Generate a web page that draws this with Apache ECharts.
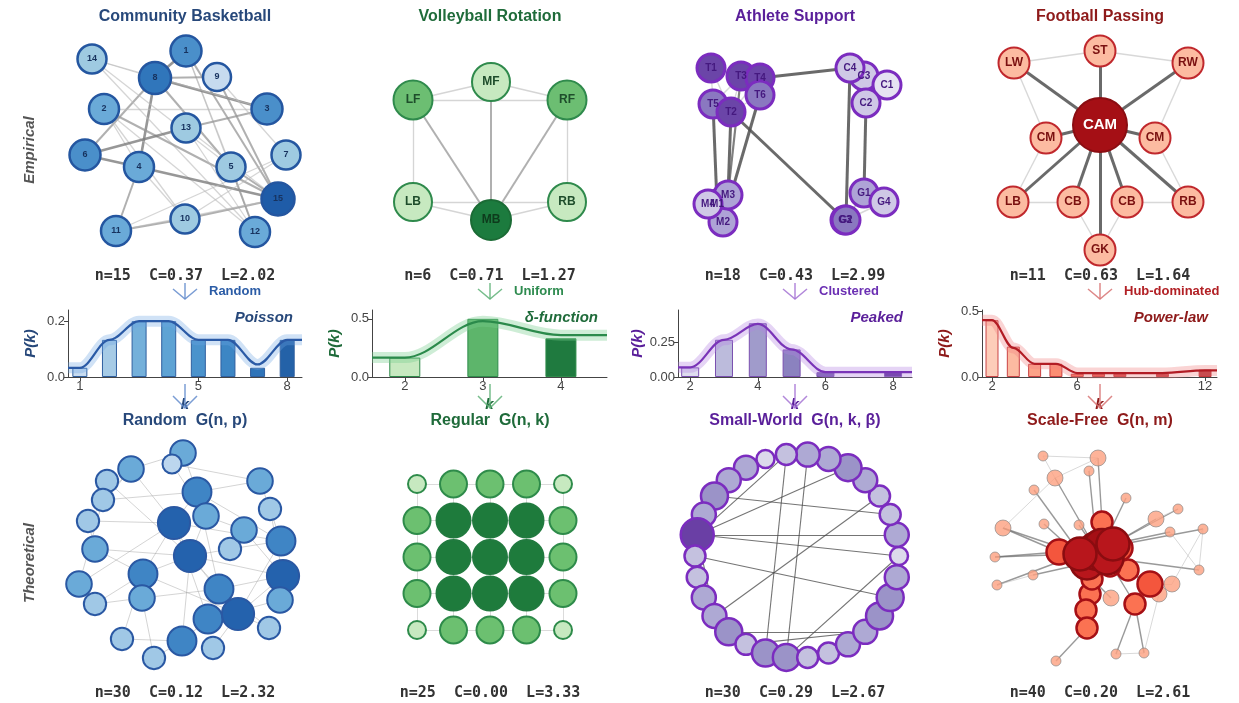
<!DOCTYPE html>
<html>
<head>
<meta charset="utf-8">
<script src="https://cdn.jsdelivr.net/npm/echarts@6/dist/echarts.min.js"></script>
<style>
  html, body { margin: 0; padding: 0; background: #ffffff; }
  #chart { width: 1239px; height: 703px; }
</style>
</head>
<body>
<div id="chart"></div>
<script>
// ---------------- Text content ----------------
const teamTitles = ['Community Basketball', 'Volleyball Rotation', 'Athlete Support', 'Football Passing'];
const modelTitles = ['Random  G(n, p)', 'Regular  G(n, k)', 'Small-World  G(n, k, \u03b2)', 'Scale-Free  G(n, m)'];
const empiricalStats = ['n=15  C=0.37  L=2.02', 'n=6  C=0.71  L=1.27', 'n=18  C=0.43  L=2.99', 'n=11  C=0.63  L=1.64'];
const modelStats = ['n=30  C=0.12  L=2.32', 'n=25  C=0.00  L=3.33', 'n=30  C=0.29  L=2.67', 'n=40  C=0.20  L=2.61'];
const shapeNotes = ['Random', 'Uniform', 'Clustered', 'Hub-dominated'];
const distNames = ['Poisson', '\u03b4-function', 'Peaked', 'Power-law'];

// ---------------- Degree distributions ----------------
const degK1 = [1, 2, 3, 4, 5, 6, 7, 8];
const degP1 = [0.033, 0.133, 0.2, 0.2, 0.133, 0.133, 0.033, 0.133];
const degK2 = [2, 3, 4];
const degP2 = [0.167, 0.5, 0.333];
const degK3 = [2, 3, 4, 5, 6, 8];
const degP3 = [0.07, 0.27, 0.39, 0.2, 0.035, 0.035];
const degK4 = [2, 3, 4, 5, 6, 7, 8, 10, 12];
const degP4 = [0.43, 0.23, 0.1, 0.1, 0.025, 0.025, 0.025, 0.025, 0.055];
// smoothed trend through each distribution
const fitP1 = [0.033, 0.133, 0.2, 0.2, 0.133, 0.133, 0.045, 0.133];
const fitP2 = [0.167, 0.48, 0.36];
const fitP3 = [0.07, 0.27, 0.385, 0.2, 0.035, 0.035];
const fitP4 = [0.43, 0.22, 0.1, 0.1, 0.03, 0.03, 0.03, 0.03, 0.05];
// axis ticks
const kTicks = [[1, 5, 8], [2, 3, 4], [2, 4, 6, 8], [2, 6, 12]];
const pTicks = [[0, 0.2], [0, 0.5], [0, 0.25], [0, 0.5]];

// ---------------- Empirical networks (layout coordinates + node degree rank) ----------------
const bballNames = ['1','2','3','4','5','6','7','8','9','10','11','12','13','14','15'];
const bballX = [1, -81, 82, -46, 46, -100, 101, -30, 32, 0, -69, 70, 1, -93, 93];
const bballY = [-95, -37, -37, 21, 21, 9, 9, -68, -69, 73, 85, 86, -18, -87, 53];
const bballRank = [3, 2, 3, 2, 1, 3, 1, 4, 0, 1, 2, 2, 1, 1, 5];
const bballLinks = [
  ['1','8',3],['1','15',2],['1','12',1],['1','5',1],
  ['8','9',2],['8','3',3],['8','4',3],['8','6',2],['8','5',2],
  ['14','8',1],['14','5',1],['14','12',1],['14','3',1],
  ['2','3',1],['2','15',2],['2','4',1],['2','10',1],['2','12',1],
  ['13','6',3],['13','3',2],['13','12',1],['13','15',1],
  ['6','4',3],['4','15',3],['4','10',1],['4','11',2],
  ['5','15',2],['5','12',2],['9','15',2],['9','7',1],
  ['7','11',1],['7','10',1],['10','15',2],['10','11',2],['11','15',1]
];

const volleyNames = ['MF', 'LF', 'RF', 'LB', 'RB', 'MB'];
const volleyX = [1, -77, 77, -77, 77, 1];
const volleyY = [-64, -46, -46, 56, 56, 74];
const volleyRank = [0, 1, 1, 0, 0, 2];
const volleyLinks = [
  ['MF','LF',1],['MF','RF',1],['LF','RF',1],['LF','LB',1],['RF','RB',1],
  ['LF','MB',2],['MF','MB',2],['RF','MB',2],['LB','MB',1],['RB','MB',1],['LB','RB',1]
];

const supportNames = ['T1','T3','T4','T6','T5','T2','C3','C1','C2','C4','M1','M2','M3','M4','G1','G4','G3','G2'];
const supportX = [-84, -54, -35, -35, -82, -64, 69, 92, 71, 55, -78, -72, -67, -87, 69, 89, 50, 51];
const supportY = [-78, -70, -68, -51, -42, -34, -70, -61, -43, -78, 58, 76, 49, 58, 47, 56, 74, 74];
const supportRank = [4, 4, 4, 3, 3, 4, 1, 0, 1, 1, 2, 2, 2, 1, 2, 1, 3, 3];
const supportLinks = [
  ['T1','T3',1],['T1','T5',1],['T1','T2',1],['T3','T4',1],['T3','T5',1],['T3','T2',1],
  ['T3','T6',1],['T4','T6',1],['T4','T2',1],['T5','T2',1],['T6','T2',1],['T1','T4',1],
  ['T4','C4',3],['C4','G2',3],['C2','G1',3],['T2','G3',3],['T5','M1',3],['T2','M3',3],
  ['T6','M2',3],['T3','M3',2],
  ['C4','C3',1],['C3','C1',1],['C4','C2',1],['C3','C2',1],['C1','C2',1],
  ['M3','M1',1],['M3','M2',1],['M4','M1',1],['M1','M2',1],['M4','M2',1],['M3','M4',1],
  ['G1','G4',1],['G1','G3',1],['G4','G2',1],['G2','G3',1],['G1','G2',1]
];

const passIds = ['ST','LW','RW','CML','CMR','LB','CBL','CBR','RB','GK','CAM'];
const passLabels = ['ST','LW','RW','CM','CM','LB','CB','CB','RB','GK','CAM'];
const passX = [0, -86, 88, -54, 55, -87, -27, 27, 88, 0, 0];
const passY = [-95, -83, -83, -8, -8, 56, 56, 56, 56, 104, -21];
const passRank = [0, 0, 0, 0, 0, 0, 0, 0, 0, 0, 1];
const passLinks = [
  ['CAM','ST',3],['CAM','LW',3],['CAM','RW',3],['CAM','CML',3],['CAM','CMR',3],
  ['CAM','LB',3],['CAM','CBL',3],['CAM','CBR',3],['CAM','RB',3],['CAM','GK',3],
  ['LW','ST',1],['ST','RW',1],['LW','CML',1],['RW','CMR',1],['CML','LB',1],['CMR','RB',1],
  ['LB','CBL',1],['CBR','RB',1],['CBL','GK',1],['CBR','GK',1]
];

// ---------------- Model networks ----------------
const randX = [-2,-13,-54,-78,-82,-97,-90,-106,-90,-63,-31,12,21,-11,5,-42,-43,-3,28,23,34,53,45,59,75,85,96,98,95,84];
const randY = [-103,-92,-87,-75,-56,-35,-7,28,48,83,102,-64,-40,-33,0,18,42,85,92,63,33,58,-7,-26,-75,-47,-15,20,44,72];
const randRank = [2,0,2,1,1,1,2,2,1,1,1,3,2,4,4,3,2,3,1,3,3,4,1,2,2,1,3,4,2,1];
const randLinks = [
  [1,12],[1,3],[2,13],[3,14],[3,6],[4,5],[4,15],[5,12],[5,8],[6,7],[6,14],[7,16],[7,15],
  [8,9],[8,14],[9,17],[10,16],[10,18],[11,17],[11,18],[12,25],[12,14],[12,21],[13,24],
  [14,15],[14,27],[14,20],[15,16],[15,21],[15,22],[15,28],[15,18],[16,22],[17,21],[18,20],
  [19,22],[20,29],[21,28],[22,28],[22,30],[23,27],[23,15],[24,28],[25,27],[26,28],[27,22],
  [29,28],[30,21],[13,15],[2,25],[3,5],[9,16],[12,27],[20,22],[14,16]
];

const latticeRows = [0, 1, 2, 3, 4];
const latticeCols = [0, 1, 2, 3, 4];

const ringCount = 30;
const ringRank = [0,2,1,1,2,3,2,2,1,0,2,2,3,2,5,1,1,2,2,3,1,3,3,1,1,2,2,3,3,2];
const ringChords = [[14,5],[14,8],[14,1],[14,0],[14,18],[12,2],[15,28],[18,3],[8,21],[7,22],[0,22],[19,26],[20,26]];

const sfX = [-57,-2,-45,-11,-66,26,78,56,70,103,-97,-56,-21,-105,-67,-103,99,72,59,11,16,44,-44,
             2,-41,20,28,50,-10,-14,35,-13,-8,10, -13,-3,2,7,-20,13];
const sfY = [-100,-98,-78,-85,-66,-58,-47,-37,-24,-27,-28,-32,-31,1,19,29,14,28,38,42,98,97,105,
             -34,-4,-8,14,28,38,54,48,72,23,10, 7,-5,-8,2,-2,-12];
const sfRank = [0,1,1,0,0,0,0,1,0,0,1,0,0,0,0,0,0,1,1,1,0,0,0,
                2,3,3,2,3,2,2,2,2,2,2, 4,5,5,4,4,4];
const sfLinks = [
  [3,36,2],[4,36,2],[5,35,2],[6,37,2],[7,40,2],[8,40,2],[9,40,2],[10,37,2],[11,39,2],[12,35,2],
  [13,36,2],[14,39,2],[15,35,2],[16,39,2],[17,38,2],[19,27,2],[20,33,2],[21,31,2],[22,31,2],
  [23,32,2],[24,37,2],[25,39,2],[26,37,2],[27,38,2],[28,38,2],[29,36,2],[30,35,2],[31,38,2],
  [32,30,2],[33,36,2],[34,37,2],[35,36,2],[36,37,2],[37,38,2],[38,40,2],[39,36,2],[2,24,2],
  [11,25,2],[14,25,2],[1,2,1],[2,3,1],[1,3,1],[10,17,1],[21,22,1],[22,19,1],[7,8,1],[18,28,1],
  [16,15,1],[2,4,1],[9,17,1],[10,18,1],[3,11,1]
];

// ---------------- Styling ----------------
const FONT = '"Liberation Sans", Arial, sans-serif';
const MONO = '"DejaVu Sans Mono", monospace';
const colX = [185, 490, 795, 1100];
const themes = [
  { title: '#27487a', accent: '#2b5ca6', arrow: 'rgba(100,140,205,0.85)', line: '#2a5aa6', band: 'rgba(110,165,228,0.32)',
    bars: ['#c8dcf0','#a6cbe6','#74b0da','#5ea3d4','#4b93cc','#3d86c4','#2f74b8','#2462a8'], barEdge: '#2f5f9f' },
  { title: '#1f6b3a', accent: '#2e8b4f', arrow: 'rgba(95,178,120,0.85)', line: '#2b8a4b', band: 'rgba(120,205,140,0.36)',
    bars: ['#c7e9c0','#5db56b','#1f7a3f'], barEdge: '#2e8b4a' },
  { title: '#5a1f9a', accent: '#6b2fb3', arrow: 'rgba(165,115,212,0.85)', line: '#7a34b8', band: 'rgba(180,130,225,0.34)',
    bars: ['#dedcee','#bcbbdc','#a09bcb','#8b82bf','#7560ae','#5a2d95'], barEdge: '#7a4fb0' },
  { title: '#8e1a1a', accent: '#b22025', arrow: 'rgba(215,115,115,0.85)', line: '#b21c24', band: 'rgba(240,130,130,0.34)',
    bars: ['#fdc4ad','#fcae91','#fc9272','#fb7a5a','#f6553c','#e53a2e','#d02424','#b81a1f','#a50f15'], barEdge: '#c0282d' }
];

const chart = echarts.init(document.getElementById('chart'), null, { renderer: 'canvas' });

const grids = [], xAxes = [], yAxes = [], series = [], graphics = [];

// hidden coordinate frame for a network panel
function addFrame(cx, cy, xr, yr, flipY) {
  const idx = grids.length;
  grids.push({ left: cx - 130, top: cy - 116, width: 260, height: 232, containLabel: false });
  xAxes.push({ gridIndex: idx, type: 'value', show: false, min: xr[0], max: xr[1] });
  yAxes.push({ gridIndex: idx, type: 'value', show: false, min: yr[0], max: yr[1], inverse: !flipY });
  return idx;
}

function graphSeries(idx, nodes, links) {
  return {
    type: 'graph', coordinateSystem: 'cartesian2d', xAxisIndex: idx, yAxisIndex: idx,
    data: nodes, links: links, silent: true, animation: false, roam: false, z: 2,
    lineStyle: { opacity: 1, curveness: 0 },
    label: { show: false }, emphasis: { disabled: true }
  };
}

const edgeLook = {
  soft: { 1: ['rgba(185,185,185,0.6)', 1.3], 2: ['rgba(150,150,150,0.75)', 2], 3: ['rgba(125,125,125,0.8)', 2.6] },
  dark: { 1: ['rgba(190,190,190,0.6)', 1.4], 2: ['rgba(95,95,95,0.8)', 2.2], 3: ['rgba(80,80,80,0.85)', 3] }
};

function namedNetwork(idx, ids, labels, xs, ys, ranks, links, look) {
  const nodes = ids.map((id, i) => {
    const r = ranks[i];
    return {
      name: id, value: [xs[i], ys[i]], symbolSize: look.size(r),
      itemStyle: { color: look.fill[r], borderColor: look.border(r), borderWidth: look.borderWidth },
      label: { show: true, formatter: labels[i], color: look.labelColor(r), fontSize: look.fontSize(r),
               fontWeight: 'bold', fontFamily: FONT, position: 'inside' }
    };
  });
  const lk = links.map(([a, b, w]) => ({
    source: ids.indexOf(a), target: ids.indexOf(b),
    lineStyle: { color: look.edges[w][0], width: look.edges[w][1] }
  }));
  series.push(graphSeries(idx, nodes, lk));
}

// ---- Empirical row ----
const topY = 146;
namedNetwork(addFrame(colX[0], topY, [-130, 130], [-116, 116]), bballNames, bballNames, bballX, bballY, bballRank, bballLinks, {
  size: r => 28 + r, fill: ['#c6dbef','#9ecae1','#6aaad8','#4a8fca','#3076bb','#1f5ca8'],
  border: () => '#2456a0', borderWidth: 2.5, labelColor: () => '#17325e', fontSize: () => 9, edges: edgeLook.soft
});
namedNetwork(addFrame(colX[1], topY, [-130, 130], [-116, 116]), volleyNames, volleyNames, volleyX, volleyY, volleyRank, volleyLinks, {
  size: r => 38 + r, fill: ['#c7e9c0','#6cbe72','#1c7b3e'],
  border: r => r === 2 ? '#1b6b35' : '#2f8a4c', borderWidth: 2, labelColor: r => r === 2 ? '#0e3b1c' : '#1e4d2b',
  fontSize: () => 12, edges: edgeLook.soft
});
namedNetwork(addFrame(colX[2], topY, [-130, 130], [-116, 116]), supportNames, supportNames, supportX, supportY, supportRank, supportLinks, {
  size: () => 28, fill: ['#e6e2f2','#cfc8e6','#aea3d6','#8a78c0','#6b45a8'],
  border: () => '#7b2cbf', borderWidth: 3, labelColor: () => '#45197f', fontSize: () => 10, edges: edgeLook.dark
});
namedNetwork(addFrame(colX[3], topY, [-130, 130], [-116, 116]), passIds, passLabels, passX, passY, passRank, passLinks, {
  size: r => 31 + 23 * r, fill: ['#fcbba1','#a50f15'],
  border: r => r ? '#8b0d12' : '#c0282d', borderWidth: 2, labelColor: r => r ? '#ffffff' : '#7a1010',
  fontSize: r => r ? 15 : 12, edges: edgeLook.dark
});

// ---- Degree distribution panels ----
const distSets = [
  { k: degK1, p: degP1, fit: fitP1, xr: [0.6, 8.5], ymax: 0.24, barW: 15, dec: 1 },
  { k: degK2, p: degP2, fit: fitP2, xr: [1.58, 4.59], ymax: 0.576, barW: 31, dec: 1 },
  { k: degK3, p: degP3, fit: fitP3, xr: [1.64, 8.56], ymax: 0.486, barW: 18, dec: 2 },
  { k: degK4, p: degP4, fit: fitP4, xr: [1.53, 12.56], ymax: 0.507, barW: 13, dec: 1 }
];
const distLeft = [68, 372, 678, 982];
const distWidth = [234, 235, 234, 235];
distSets.forEach((d, i) => {
  const th = themes[i];
  const idx = grids.length;
  grids.push({ left: distLeft[i], top: 310, width: distWidth[i], height: 67, containLabel: false });
  const axisLine = { show: true, onZero: false, lineStyle: { color: '#444', width: 1 } };
  xAxes.push({
    gridIndex: idx, type: 'value', min: d.xr[0], max: d.xr[1],
    axisLine, splitLine: { show: false },
    axisTick: { show: true, customValues: kTicks[i], length: 4, lineStyle: { color: '#444' } },
    axisLabel: { customValues: kTicks[i], color: '#444', fontSize: 13, fontFamily: FONT, margin: 3 },
    name: 'k', nameLocation: 'middle', nameGap: 20,
    nameTextStyle: { color: th.title, fontSize: 15, fontWeight: 'bold', fontStyle: 'italic', fontFamily: FONT }
  });
  yAxes.push({
    gridIndex: idx, type: 'value', min: 0, max: d.ymax,
    axisLine, splitLine: { show: false },
    axisTick: { show: true, customValues: pTicks[i], length: 4, lineStyle: { color: '#444' } },
    axisLabel: { customValues: pTicks[i], color: '#444', fontSize: 13, fontFamily: FONT, margin: 3,
                 formatter: v => v.toFixed(d.dec) },
    name: 'P(k)', nameLocation: 'middle', nameGap: 30, nameRotate: 90,
    nameTextStyle: { color: th.title, fontSize: 15, fontWeight: 'bold', fontStyle: 'italic', fontFamily: FONT }
  });
  series.push({
    type: 'bar', xAxisIndex: idx, yAxisIndex: idx, barWidth: d.barW, silent: true, animation: false, z: 2,
    data: d.k.map((k, j) => ({ value: [k, d.p[j]],
      itemStyle: { color: th.bars[j], borderColor: th.barEdge, borderWidth: 1, opacity: i === 3 ? 0.85 : 1 } }))
  });
  const trend = [[d.xr[0], d.fit[0]]].concat(d.k.map((k, j) => [k, d.fit[j]]), [[d.xr[1], d.fit[d.fit.length - 1]]]);
  series.push({
    type: 'line', xAxisIndex: idx, yAxisIndex: idx, data: trend, smooth: 0.35, smoothMonotone: 'x',
    symbol: 'none', silent: true, animation: false, z: 3, lineStyle: { color: th.band, width: 11, cap: 'butt' }
  });
  series.push({
    type: 'line', xAxisIndex: idx, yAxisIndex: idx, data: trend, smooth: 0.35, smoothMonotone: 'x',
    symbol: 'none', silent: true, animation: false, z: 4, lineStyle: { color: th.line, width: 2.2 }
  });
});

// ---- Model row ----
const botY = 556;
function rankedNetwork(idx, xs, ys, ranks, pairs, look) {
  const nodes = xs.map((x, i) => ({
    name: 'm' + idx + '_' + i, value: [x, ys[i]], symbolSize: look.size(ranks[i]),
    itemStyle: { color: look.fill(ranks[i]), borderColor: look.border(ranks[i]), borderWidth: look.bw(ranks[i]) }
  }));
  const lk = pairs.map(p => ({
    source: p[0] - look.base, target: p[1] - look.base,
    lineStyle: { color: look.edge(p[2] || 1)[0], width: look.edge(p[2] || 1)[1] }
  }));
  series.push(graphSeries(idx, nodes, lk));
}

// random graph
const blues = ['#bcd6ee','#a0c8e6','#6aaad8','#3f85c5','#2462ad'];
rankedNetwork(addFrame(colX[0], botY, [-130, 130], [-116, 116]), randX, randY, randRank, randLinks, {
  base: 1, size: r => 19 + r * 3.3, fill: r => blues[r], border: () => '#2a58a3', bw: () => 2,
  edge: () => ['rgba(160,160,160,0.45)', 1]
});

// square lattice
const latX = [], latY = [], latLinks = [];
latticeRows.forEach(r => latticeCols.forEach(c => { latX.push(c); latY.push(r); }));
const nCols = latticeCols.length;
latticeRows.forEach((r, ri) => latticeCols.forEach((c, ci) => {
  const id = ri * nCols + ci;
  if (ci < nCols - 1) latLinks.push([id, id + 1]);
  if (ri < latticeRows.length - 1) latLinks.push([id, id + nCols]);
}));
const latDeg = latX.map((_, i) => latLinks.filter(l => l[0] === i || l[1] === i).length);
const greens = { 2: '#c7e9c0', 3: '#6cc070', 4: '#1e7b3c' };
const latSize = { 2: 18, 3: 27, 4: 34 };
const unit = 36.5;
rankedNetwork(addFrame(colX[1], botY + 1, [2 - 130 / unit, 2 + 130 / unit], [2 - 116 / unit, 2 + 116 / unit]),
  latX, latY, latDeg, latLinks, {
  base: 0, size: d => latSize[d], fill: d => greens[d], border: d => d === 4 ? '#217a3f' : '#2e8b4a', bw: () => 2,
  edge: () => ['rgba(190,190,190,0.55)', 1]
});

// Watts-Strogatz ring
const ringX = [], ringY = [], ringLinks = [];
for (let i = 0; i < ringCount; i++) {
  const a = 2 * Math.PI * i / ringCount;
  ringX.push(Math.cos(a)); ringY.push(Math.sin(a));
  ringLinks.push([i, (i + 1) % ringCount, 1], [i, (i + 2) % ringCount, 1]);
}
ringChords.forEach(([a, b]) => ringLinks.push([a, b, 2]));
const purples = ['#dcdaeb','#c4c1df','#aea9d4','#9b93c8','#8476b9','#6a3fa5'];
const ru = 102;
rankedNetwork(addFrame(colX[2] + 2, botY, [-130 / ru, 130 / ru], [-116 / ru, 116 / ru], true), ringX, ringY, ringRank, ringLinks, {
  base: 0, size: r => 18 + r * 3, fill: r => purples[r], border: () => '#7b2cbf', bw: () => 2.5,
  edge: w => w === 2 ? ['rgba(70,70,70,0.75)', 1.1] : ['rgba(170,170,170,0.5)', 1]
});

// scale-free graph
const sfFill = ['rgba(252,160,128,0.8)','rgba(252,160,128,0.8)','#fb7252','#f4563d','#b8161c','#a50f15'];
const sfSize = [10, 16, 21, 25, 33, 38];
rankedNetwork(addFrame(colX[3], botY, [-130, 130], [-116, 116]), sfX, sfY, sfRank, sfLinks, {
  base: 1, size: r => sfSize[r], fill: r => sfFill[r],
  border: r => r < 2 ? 'rgba(130,130,130,0.65)' : (r >= 4 ? '#8a0c10' : '#a50f15'),
  bw: r => r < 2 ? 1 : 2.5,
  edge: w => w === 2 ? ['rgba(110,110,110,0.7)', 1.4] : ['rgba(185,185,185,0.55)', 1]
});

// ---------------- Annotations ----------------
function addText(text, x, y, font, fill, align, rotation) {
  graphics.push({ type: 'text', x, y, rotation: rotation || 0, silent: true, z: 100,
    style: { text, font, fill, align: align || 'center', verticalAlign: 'middle' } });
}
function addArrow(cx, y0, y1, head, color) {
  graphics.push({ type: 'line', silent: true, z: 100, shape: { x1: cx, y1: y0, x2: cx, y2: y1 },
    style: { stroke: color, lineWidth: 1.5 } });
  graphics.push({ type: 'polyline', silent: true, z: 100,
    shape: { points: [[cx - 12, y1 - head], [cx, y1], [cx + 12, y1 - head]] },
    style: { stroke: color, lineWidth: 1.5, fill: null } });
}

addText('Empirical', 30, 150, 'italic bold 15px ' + FONT, '#555555', 'center', Math.PI / 2);
addText('Theoretical', 30, 563, 'italic bold 15px ' + FONT, '#555555', 'center', Math.PI / 2);

colX.forEach((cx, i) => {
  const th = themes[i];
  addText(teamTitles[i], cx, 17, 'bold 16px ' + FONT, th.title);
  addText(empiricalStats[i], cx, 276, 'bold 15px ' + MONO, '#333333');
  addArrow(cx, 283, 299, 10, th.arrow);
  addText(shapeNotes[i], cx + 24, 291, 'bold 13px ' + FONT, th.accent, 'left');
  addText(distNames[i], distLeft[i] + distWidth[i] - 9, 318, 'italic bold 15px ' + FONT, th.title, 'right');
  addArrow(cx, 384, 408, 12, th.arrow);
  addText(modelTitles[i], cx, 421, 'bold 16px ' + FONT, th.title);
  addText(modelStats[i], cx, 693, 'bold 15px ' + MONO, '#333333');
});

chart.setOption({
  backgroundColor: '#ffffff',
  animation: false,
  tooltip: { show: false },
  grid: grids,
  xAxis: xAxes,
  yAxis: yAxes,
  series: series,
  graphic: graphics
});
</script>
</body>
</html>
